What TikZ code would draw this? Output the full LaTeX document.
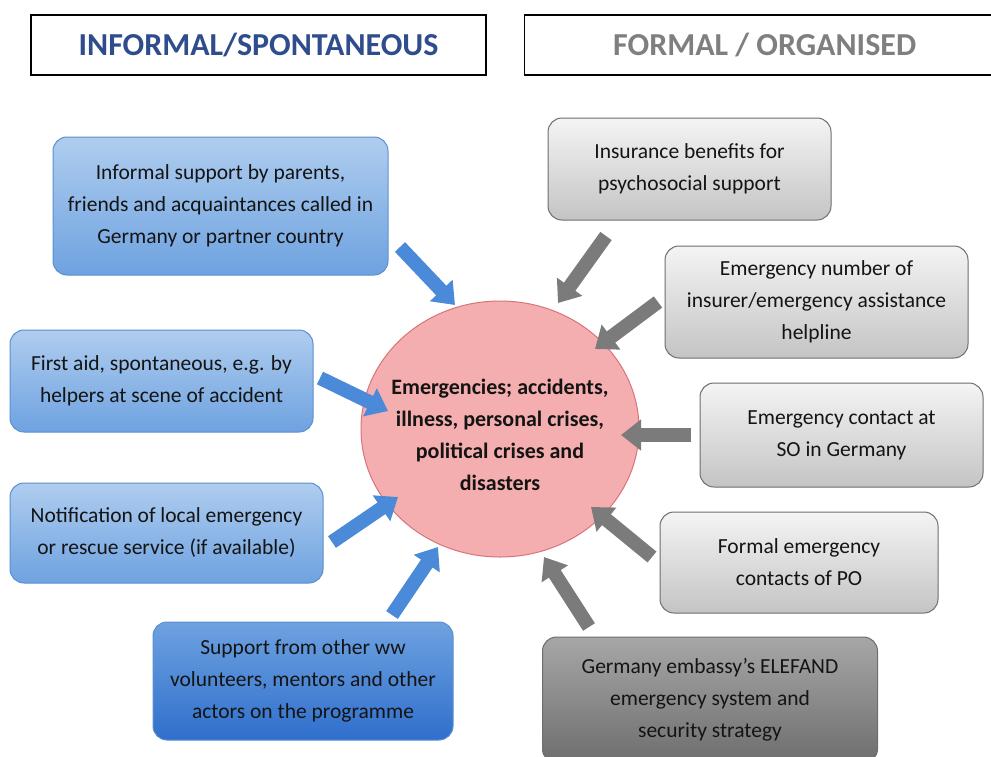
\documentclass[tikz,border=0pt]{standalone}
\usepackage{fontspec}
\setmainfont{Carlito}
\usepackage{xcolor}
\usetikzlibrary{arrows.meta,positioning,shapes.geometric}
\definecolor{navy}{HTML}{2F4C8C}
\definecolor{headgray}{HTML}{7F7F7F}
\definecolor{edgeblue}{HTML}{5B8FD0}
\definecolor{lightblue}{HTML}{AFCDEF}
\definecolor{midblue}{HTML}{6EA2E0}
\definecolor{deepblue}{HTML}{2F6FCC}
\definecolor{arrowblue}{HTML}{4A8AD8}
\definecolor{edgegray}{HTML}{6E6E6E}
\definecolor{lightgray}{HTML}{F4F4F4}
\definecolor{midgray}{HTML}{C4C4C4}
\definecolor{darkgray}{HTML}{6E6E6E}
\definecolor{arrowgray}{HTML}{7B7B7B}
\definecolor{pink}{HTML}{F5AEAF}
\definecolor{rose}{HTML}{D8747A}
\definecolor{ink}{HTML}{141414}

\begin{document}
\begin{tikzpicture}[x=1pt,y=-1pt,
  header/.style={draw=black,line width=1.3pt,minimum width=455pt,minimum height=60pt,
    inner sep=0pt,font=\fontsize{32}{36}\selectfont\bfseries},
  box/.style={rounded corners=14pt,align=center,inner sep=0pt,line width=1pt,
    text=ink,font=\fontsize{21.5}{32}\selectfont},
  infbox/.style={box,draw=edgeblue,top color=lightblue,bottom color=midblue},
  volbox/.style={box,draw=edgeblue,top color=midblue,bottom color=deepblue},
  frmbox/.style={box,draw=edgegray,top color=lightgray,bottom color=midgray},
  embbox/.style={box,draw=edgegray,top color=midgray!85!black,bottom color=darkgray},
  hub/.style={ellipse,draw=rose,line width=1pt,fill=pink,inner sep=0pt,
    minimum width=278pt,minimum height=256pt},
  hubtext/.style={align=center,inner sep=0pt,text=ink,
    font=\fontsize{22}{32}\selectfont\bfseries},
  blockarr/.style={line width=14pt,-{Triangle[length=20pt,width=30pt]}},
  bluearr/.style={blockarr,draw=arrowblue},
  grayarr/.style={blockarr,draw=arrowgray}
]
\useasboundingbox (0,0) rectangle (991,756);
\fill[white] (0,0) rectangle (991,756);

% column headers
\node[header,text=navy] (hinf) at (258.5,45) {INFORMAL/SPONTANEOUS};
\node[header,text=headgray,minimum width=480pt,anchor=west] (hfrm) at (524,45) {FORMAL / ORGANISED};

% centre
\node[hub] (crisis) at (500,429) {};
\node[hubtext] (crisislabel) at (500,435) {Emergencies; accidents,\\ illness, personal crises,\\ political crises and\\ disasters};

% informal side
\node[infbox,minimum width=335pt,minimum height=138pt] (family) at (220.5,206)
  {Informal support by parents,\\ friends and acquaintances called in\\ Germany or partner country};
\node[infbox,minimum width=303pt,minimum height=102pt] (firstaid) at (161.5,381)
  {First aid, spontaneous, e.g. by\\ helpers at scene of accident};
\node[infbox,minimum width=313pt,minimum height=100pt] (rescue) at (166.5,533)
  {Notification of local emergency\\ or rescue service (if available)};
\node[volbox,minimum width=300pt,minimum height=118pt] (peers) at (303,681)
  {Support from other ww\\ volunteers, mentors and other\\ actors on the programme};

% formal side
\node[frmbox,minimum width=283pt,minimum height=102pt] (insurance) at (689.5,169)
  {Insurance benefits for\\ psychosocial support};
\node[frmbox,minimum width=303pt,minimum height=112pt] (hotline) at (816.5,302)
  {Emergency number of\\ insurer/emergency assistance\\ helpline};
\node[frmbox,minimum width=283pt,minimum height=104pt] (sending) at (841.5,435)
  {Emergency contact at\\ SO in Germany};
\node[frmbox,minimum width=278pt,minimum height=101pt] (partner) at (799,562.5)
  {Formal emergency\\ contacts of PO};
\node[embbox,minimum width=335pt,minimum height=126pt] (embassy) at (710,700)
  {Germany embassy's ELEFAND\\ emergency system and\\ security strategy};

% arrow ends
\coordinate (family-out) at (400,247);
\coordinate (family-in) at (455,305);
\coordinate (firstaid-out) at (320,378);
\coordinate (firstaid-in) at (388,411);
\coordinate (rescue-out) at (332,542);
\coordinate (rescue-in) at (398,497);
\coordinate (peers-out) at (392,615);
\coordinate (peers-in) at (438,547);
\coordinate (insurance-out) at (606,236);
\coordinate (insurance-in) at (558,303);
\coordinate (hotline-out) at (658,302);
\coordinate (hotline-in) at (595,349);
\coordinate (sending-out) at (691,435);
\coordinate (sending-in) at (621,435);
\coordinate (partner-out) at (652,557);
\coordinate (partner-in) at (591,507);
\coordinate (embassy-out) at (589,627);
\coordinate (embassy-in) at (544,557);

\draw[bluearr] (family-out) -- (family-in);
\draw[bluearr] (firstaid-out) -- (firstaid-in);
\draw[bluearr] (rescue-out) -- (rescue-in);
\draw[bluearr] (peers-out) -- (peers-in);
\draw[grayarr] (insurance-out) -- (insurance-in);
\draw[grayarr] (hotline-out) -- (hotline-in);
\draw[grayarr] (sending-out) -- (sending-in);
\draw[grayarr] (partner-out) -- (partner-in);
\draw[grayarr] (embassy-out) -- (embassy-in);
\end{tikzpicture}
\end{document}
